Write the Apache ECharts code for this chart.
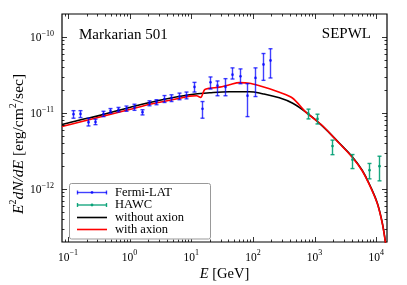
<!DOCTYPE html>
<html><head><meta charset="utf-8">
<script src="https://cdn.jsdelivr.net/npm/echarts@6/dist/echarts.min.js"></script>
<style>html,body{margin:0;padding:0;background:#fff}#c{width:407px;height:285px}</style>
</head><body><div id="c"></div>
<script>
// ---- data ----
const fermiE  = [0.119,0.156,0.211,0.277,0.365,0.484,0.644,0.868,1.17,1.56,2.07,2.72,3.61,4.76,6.25,8.34,11.1,14.9,19.9,26.1,34.7,46.2,60.7,81.8,109,145,193];
const fermiY  = [9.61e-12,9.7e-12,7.53e-12,7.6e-12,9.7e-12,1.06e-11,1.10e-11,1.13e-11,1.18e-11,1.02e-11,1.34e-11,1.39e-11,1.52e-11,1.57e-11,1.64e-11,1.69e-11,2.19e-11,1.13e-11,2.52e-11,2.28e-11,2.19e-11,3.18e-11,3.03e-11,1.68e-11,2.88e-11,4.33e-11,4.89e-11];
const fermiLo = [8.51e-12,8.67e-12,6.73e-12,7.0e-12,8.93e-12,9.9e-12,1.03e-11,1.05e-11,1.08e-11,9.4e-12,1.24e-11,1.28e-11,1.37e-11,1.41e-11,1.49e-11,1.53e-11,1.88e-11,8.51e-12,2.06e-11,1.68e-11,1.68e-11,2.79e-11,2.42e-11,8.93e-12,1.64e-11,2.68e-11,2.88e-11];
const fermiHi = [1.07e-11,1.07e-11,8.51e-12,8.26e-12,1.05e-11,1.14e-11,1.18e-11,1.23e-11,1.30e-11,1.10e-11,1.44e-11,1.49e-11,1.69e-11,1.73e-11,1.82e-11,1.88e-11,2.52e-11,1.41e-11,2.97e-11,2.63e-11,2.82e-11,3.91e-11,3.79e-11,2.42e-11,3.91e-11,6.04e-11,6.98e-11];

const hawcE  = [773,1089,1955,4043,7638,11200];
const hawcY  = [9.7e-12,8.33e-12,3.66e-12,2.42e-12,1.76e-12,1.99e-12];
const hawcLo = [8.33e-12,7.15e-12,2.82e-12,1.85e-12,1.355e-12,1.276e-12];
const hawcHi = [1.12e-11,9.61e-12,4.38e-12,2.83e-12,2.16e-12,2.69e-12];

const noAxionE = [0.08,0.156,0.33,1.0,3.08,9.42,19.9,41.8,88.1,143,269,443,764,1336,2518,4090,5935,8200,10500,12650,14250];
const noAxionY = [7.05e-12,8.07e-12,9.27e-12,1.18e-11,1.47e-11,1.73e-11,1.84e-11,1.90e-11,1.90e-11,1.79e-11,1.58e-11,1.34e-11,9.9e-12,6.73e-12,4.01e-12,2.65e-12,1.76e-12,1.05e-12,6.43e-13,3.49e-13,1.9e-13];

const axionE = [0.08,0.156,0.33,1.0,2.12,3.08,4.47,6.49,9.42,12.2,14.2,16.5,19.9,28.8,41.8,60.7,88.1,128,186,269,438,736,1336,2518,4090,5935,8200,10500,12650,14250];
const axionY = [6.62e-12,7.6e-12,8.85e-12,1.11e-11,1.30e-11,1.38e-11,1.47e-11,1.56e-11,1.66e-11,1.68e-11,1.60e-11,2.02e-11,2.11e-11,2.18e-11,2.35e-11,2.50e-11,2.46e-11,2.28e-11,2.08e-11,1.87e-11,1.57e-11,1.01e-11,6.83e-12,3.98e-12,2.61e-12,1.73e-12,1.03e-12,6.32e-13,3.44e-13,1.9e-13];

const xMin = 0.08, xMax = 15000, yMin = 2e-13, yMax = 2e-10;
const xDecades = [-2,-1,0,1,2,3,4];
const yDecades = [-13,-12,-11,-10];
const xLabelDecades = [-1,0,1,2,3,4];
const yLabelDecades = [-12,-11,-10];

const FONT = "'Liberation Serif','DejaVu Serif',serif";
const BLUE = 'rgba(0,0,255,0.75)';
const TEAL = 'rgba(0,158,115,0.9)';
const BASE_FONT = '11.5px ' + FONT, SUP_FONT = '8px ' + FONT;

function zip4(a,b,c,d){ return a.map((v,i)=>[v,b[i],c[i],d[i]]); }
function zip2(a,b){ return a.map((v,i)=>[v,b[i]]); }

const mctx = document.createElement('canvas').getContext('2d');
function textW(t, f){ mctx.font = f; return mctx.measureText(t).width; }
function supText(k){ return k < 0 ? '\u2212' + (-k) : String(k); }

function errRender(color){
  return function(params, api){
    const x = api.value(0), y = api.value(1), lo = api.value(2), hi = api.value(3);
    const pc = api.coord([x,y]), pl = api.coord([x,lo]), ph = api.coord([x,hi]);
    const px = Math.round(pc[0]) + 0.5;
    const st = {stroke: color, lineWidth: 1.4};
    return {type:'group', children:[
      {type:'line', shape:{x1:px,y1:pl[1],x2:px,y2:ph[1]}, style:st},
      {type:'line', shape:{x1:px-2,y1:pl[1],x2:px+2,y2:pl[1]}, style:st},
      {type:'line', shape:{x1:px-2,y1:ph[1],x2:px+2,y2:ph[1]}, style:st},
      {type:'circle', shape:{cx:px,cy:pc[1],r:1.4}, style:{fill:color}}
    ]};
  };
}

function axisRender(params, api){
  const cs = params.coordSys;
  const L = cs.x, R = cs.x + cs.width, T = cs.y, B = cs.y + cs.height;
  const st = {stroke:'#000', lineWidth:0.8};
  const ch = [];
  xDecades.forEach(k => { for (let m = 1; m <= 9; m++) {
    const v = m * Math.pow(10,k);
    if (v <= xMin || v >= xMax) continue;
    const px = Math.round(api.coord([v, 1e-11])[0]) + 0.5;
    const len = m === 1 ? 5 : 2.5;
    ch.push({type:'line', shape:{x1:px,y1:B,x2:px,y2:B-len}, style:st});
    ch.push({type:'line', shape:{x1:px,y1:T,x2:px,y2:T+len}, style:st});
  }});
  yDecades.forEach(k => { for (let m = 1; m <= 9; m++) {
    const v = m * Math.pow(10,k);
    if (v <= yMin || v >= yMax) continue;
    const py = Math.round(api.coord([1, v])[1]) + 0.5;
    const len = m === 1 ? 5 : 2.5;
    ch.push({type:'line', shape:{x1:L,y1:py,x2:L+len,y2:py}, style:st});
    ch.push({type:'line', shape:{x1:R,y1:py,x2:R-len,y2:py}, style:st});
  }});
  // tick labels 10^k
  xLabelDecades.forEach(k => {
    const px = api.coord([Math.pow(10,k), 1e-11])[0];
    const s = supText(k), w1 = textW('10', BASE_FONT), w2 = textW(s, SUP_FONT);
    const left = px - (w1 + w2) / 2;
    ch.push({type:'text', x: left, y: B + 15.5, style:{text:'10', font: BASE_FONT, fill:'#000', align:'left', verticalAlign:'middle'}});
    ch.push({type:'text', x: left + w1, y: B + 10.5, style:{text:s, font: SUP_FONT, fill:'#000', align:'left', verticalAlign:'middle'}});
  });
  yLabelDecades.forEach(k => {
    const py = api.coord([1, Math.pow(10,k)])[1];
    const s = supText(k), w2 = textW(s, SUP_FONT);
    const right = L - 8;
    ch.push({type:'text', x: right, y: py - 3, style:{text:s, font: SUP_FONT, fill:'#000', align:'right', verticalAlign:'middle'}});
    ch.push({type:'text', x: right - w2, y: py + 1.5, style:{text:'10', font: BASE_FONT, fill:'#000', align:'right', verticalAlign:'middle'}});
  });
  return {type:'group', children: ch};
}

const legendItems = [
  {label:'Fermi-LAT', color: BLUE, bar: true, y: 192.5},
  {label:'HAWC', color: TEAL, bar: true, y: 205},
  {label:'without axion', color:'#000', bar: false, y: 217.5},
  {label:'with axion', color:'#ff0000', bar: false, y: 229.5}
];
const LZ = 50;
const legendEls = [{type:'rect', z: LZ, shape:{x:69.5, y:183.5, width:141, height:55.5, r:2}, style:{fill:'#fff', stroke:'#999', lineWidth:1}}];
legendItems.forEach(it => {
  legendEls.push({type:'line', z: LZ+1, shape:{x1:77,y1:it.y,x2:107,y2:it.y}, style:{stroke:it.color, lineWidth: it.bar ? 1.4 : 1.6}});
  if (it.bar) {
    legendEls.push({type:'line', z: LZ+1, shape:{x1:77.5,y1:it.y-2,x2:77.5,y2:it.y+2}, style:{stroke:it.color, lineWidth:1.4}});
    legendEls.push({type:'line', z: LZ+1, shape:{x1:106.5,y1:it.y-2,x2:106.5,y2:it.y+2}, style:{stroke:it.color, lineWidth:1.4}});
    legendEls.push({type:'circle', z: LZ+1, shape:{cx:92,cy:it.y,r:1.4}, style:{fill:it.color}});
  }
  legendEls.push({type:'text', z: LZ+1, x:115, y:it.y, style:{text:it.label, font:'12.5px '+FONT, fill:'#000', verticalAlign:'middle'}});
});

const chart = echarts.init(document.getElementById('c'), null, {renderer:'canvas'});
chart.setOption({
  animation: false,
  grid: {left: 62, top: 14, right: 20, bottom: 43, show: true, borderColor:'#000', borderWidth: 1.2, backgroundColor:'transparent', z: 0},
  xAxis: {
    type:'log', logBase:10, min:xMin, max:xMax,
    axisLine:{show:false}, axisTick:{show:false}, splitLine:{show:false}, axisLabel:{show:false}
  },
  yAxis: {
    type:'log', logBase:10, min:yMin, max:yMax,
    axisLine:{show:false}, axisTick:{show:false}, splitLine:{show:false}, axisLabel:{show:false}
  },
  graphic: [
    {type:'text', x: 19, y: 144, rotation: Math.PI/2, z: 10,
     style:{text:'{i|E}{s|2}{i|dN/dE} [erg/cm{s|2}/sec]', font:'15.5px '+FONT, fill:'#000', align:'center', verticalAlign:'middle',
       rich:{i:{fontFamily:FONT, fontSize:15.5, fontStyle:'italic', fill:'#000', lineHeight: 22}, s:{fontFamily:FONT, fontSize:10, fill:'#000', lineHeight:12, verticalAlign:'top'}}}},
    {type:'text', x: 224.5, y: 274, z: 10,
     style:{text:'{i|E} [GeV]', font:'14.5px '+FONT, fill:'#000', align:'center', verticalAlign:'middle',
       rich:{i:{fontFamily:FONT, fontSize:14.5, fontStyle:'italic', fill:'#000'}}}},
    {type:'text', x: 79, y: 35, z: 10, style:{text:'Markarian 501', font:'15px '+FONT, fill:'#000', align:'left', verticalAlign:'middle'}},
    {type:'text', x: 371, y: 34, z: 10, style:{text:'SEPWL', font:'15px '+FONT, fill:'#000', align:'right', verticalAlign:'middle'}}
  ].concat(legendEls),
  series: [
    {type:'line', name:'without axion', data: zip2(noAxionE, noAxionY), showSymbol:false, smooth:0.4, clip:true,
     lineStyle:{color:'#000', width:1.6}, z: 3},
    {type:'line', name:'with axion', data: zip2(axionE, axionY), showSymbol:false, smooth:0.3, clip:true,
     lineStyle:{color:'#ff0000', width:1.6}, z: 4},
    {type:'custom', name:'Fermi-LAT', data: zip4(fermiE, fermiY, fermiLo, fermiHi), renderItem: errRender(BLUE), z: 5, clip:true},
    {type:'custom', name:'HAWC', data: zip4(hawcE, hawcY, hawcLo, hawcHi), renderItem: errRender(TEAL), z: 5, clip:true},
    {type:'custom', name:'axes', data: [[1, 1e-11]], renderItem: axisRender, z: 6, silent:true, clip:false}
  ]
});
</script>
</body></html>
